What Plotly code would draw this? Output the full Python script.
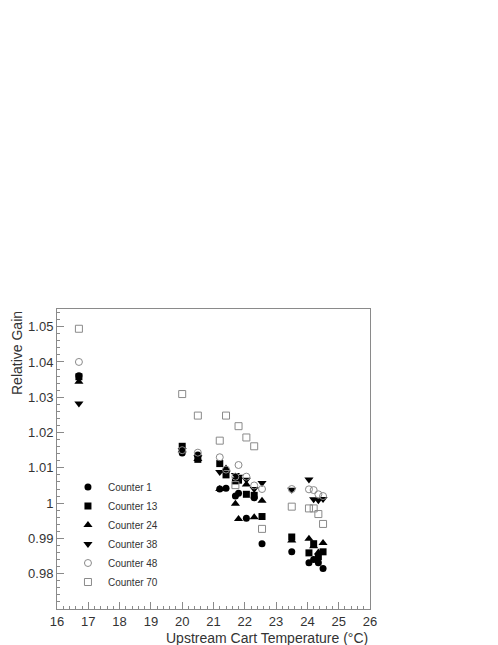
import plotly.graph_objects as go

# run temperatures (deg C), shared by all counters
temps = [16.7, 20.0, 20.5, 21.2, 21.4, 21.7, 21.8, 22.05, 22.3, 22.55,
         23.5, 24.05, 24.2, 24.35, 24.5]

gain_c1 = [1.0361, 1.0142, 1.0136, 1.0040, 1.0042, 1.0020, 1.0028, 0.9957,
           1.0015, 0.9885, 0.9862, 0.9831, 0.9840, 0.9831, 0.9815]
gain_c13 = [1.0358, 1.0161, 1.0124, 1.0112, 1.0080, 1.0063, 1.0065, 1.0025,
            1.0022, 0.9962, 0.9904, 0.9859, 0.9885, 0.9848, 0.9862]
gain_c24 = [1.0344, 1.0150, 1.0125, 1.0040, 1.0098, 0.9998, 0.9955, 1.0053,
            0.9960, 1.0007, 0.9894, 0.9899, 0.9878, 0.9860, 0.9887]
gain_c38 = [1.0282, 1.0150, 1.0130, 1.0088, 1.0085, 1.0080, 1.0075, 1.0066,
            1.0040, 1.0057, 1.0038, 1.0067, 1.0011, 1.0008, 1.0012]
gain_c48 = [1.0400, 1.0150, 1.0143, 1.0130, 1.0095, 1.0075, 1.0108, 1.0075,
            1.0050, 1.0040, 1.0040, 1.0039, 1.0037, 1.0025, 1.0020]
gain_c70 = [1.0494, 1.0309, 1.0248, 1.0177, 1.0248, 1.0051, 1.0218, 1.0186,
            1.0161, 0.9927, 0.9990, 0.9985, 0.9985, 0.9969, 0.9941]

series_names = ["Counter 1", "Counter 13", "Counter 24", "Counter 38",
                "Counter 48", "Counter 70"]

y_tickvals = [0.98, 0.99, 1.0, 1.01, 1.02, 1.03, 1.04, 1.05]
y_ticktext = ["0.98", "0.99", "1", "1.01", "1.02", "1.03", "1.04", "1.05"]

FONT = "Liberation Sans"
GREY = "#8a8a8a"

styles = [
    dict(symbol="circle", size=7, color="black"),
    dict(symbol="square", size=7, color="black"),
    dict(symbol="triangle-up", size=8, color="black"),
    dict(symbol="triangle-down", size=8, color="black"),
    dict(symbol="circle-open", size=7, color=GREY, line=dict(width=1, color=GREY)),
    dict(symbol="square-open", size=7, color=GREY, line=dict(width=1, color=GREY)),
]

fig = go.Figure()
for name, gains, st in zip(series_names,
                           [gain_c1, gain_c13, gain_c24, gain_c38, gain_c48, gain_c70],
                           styles):
    fig.add_trace(go.Scatter(x=temps, y=gains, mode="markers", name=name,
                             marker=st))

axis_common = dict(
    showline=True, linecolor=GREY, linewidth=1, mirror=True,
    ticks="inside", tickcolor=GREY, ticklen=7, tickwidth=1,
    showgrid=False, zeroline=False,
    tickfont=dict(family=FONT, size=13, color="#333"),
)

# the page body adds an 8px margin, so the figure is 8px smaller than the window
fig.update_layout(
    width=490, height=637,
    margin=dict(l=49, r=128, t=301, b=36),
    plot_bgcolor="white", paper_bgcolor="white",
    font=dict(family=FONT, color="#333"),
    xaxis=dict(range=[16, 26], dtick=1, tick0=16,
               minor=dict(ticks="inside", ticklen=3, tickcolor=GREY, dtick=0.2, showgrid=False),
               **axis_common),
    yaxis=dict(range=[0.97, 1.055], tickvals=y_tickvals, ticktext=y_ticktext,
               minor=dict(ticks="inside", ticklen=3, tickcolor=GREY, dtick=0.002,
                          tick0=0.97, showgrid=False),
               **axis_common),
    legend=dict(x=0.035, y=0.455, xanchor="left", yanchor="top",
                bgcolor="rgba(0,0,0,0)", font=dict(family=FONT, size=10, color="#333"),
                tracegroupgap=0),
    showlegend=True,
)

# axis titles, aligned to the axis ends like the original
fig.add_annotation(text="Upstream Cart Temperature (°C)", xref="paper", yref="paper",
                   x=1, y=0, yshift=-19, xanchor="right", yanchor="top",
                   showarrow=False, font=dict(family=FONT, size=14, color="#333"))
fig.add_annotation(text="Relative Gain", xref="paper", yref="paper",
                   x=0, y=1, xshift=-40, xanchor="center", yanchor="top",
                   textangle=-90, showarrow=False,
                   font=dict(family=FONT, size=14, color="#333"))

fig.write_html("out.html")
